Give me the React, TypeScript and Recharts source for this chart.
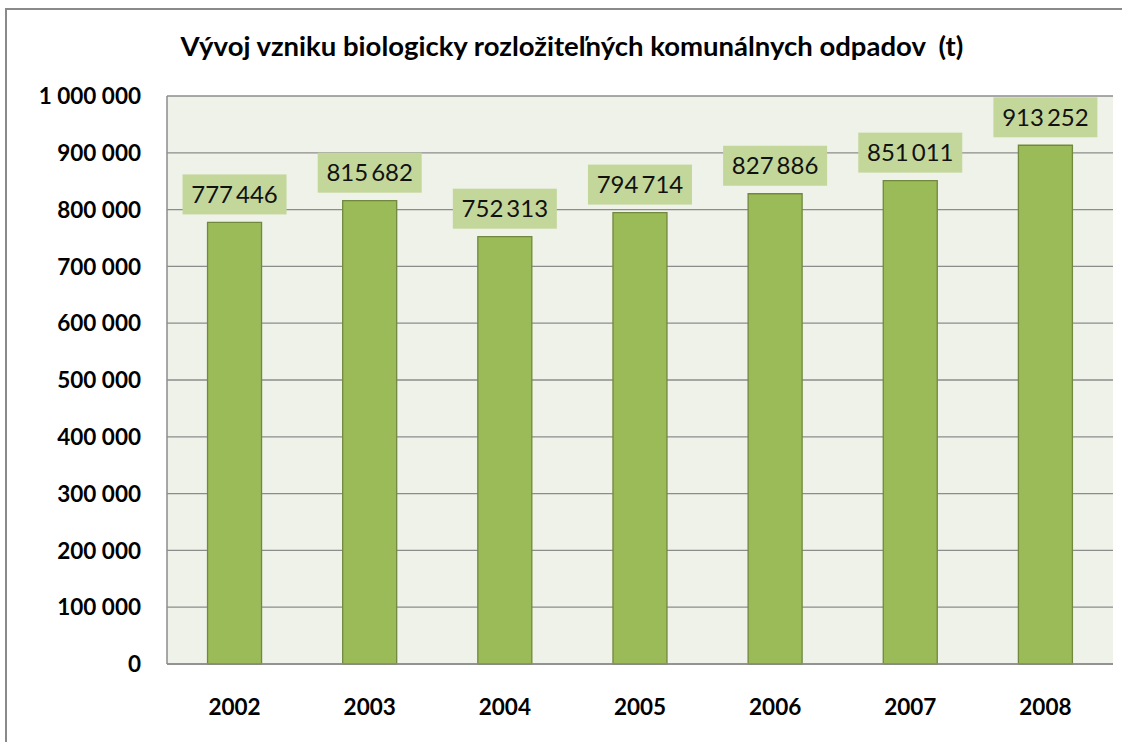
import React from "react";
import { BarChart, Bar, XAxis, YAxis, CartesianGrid, LabelList } from "recharts";

const years = ["2002", "2003", "2004", "2005", "2006", "2007", "2008"];
const values = [777446, 815682, 752313, 794714, 827886, 851011, 913252];
const yTicks = [0, 100000, 200000, 300000, 400000, 500000, 600000, 700000, 800000, 900000, 1000000];
const title = "Vývoj vzniku biologicky rozložiteľných komunálnych odpadov\u00a0 (t)";

const data = years.map((y, i) => ({ year: y, value: values[i] }));

const FONT = "Lato, 'Open Sans', sans-serif";

const fmt = (v: number, sep: string) => String(v).replace(/\B(?=(\d{3})+(?!\d))/g, sep);

const YTick = (props: any) => {
  const { x, y, payload } = props;
  return (
    <text x={x} y={y} dy="0.36em" textAnchor="end" fontFamily={FONT} fontWeight={700} fontSize={22.5} fill="#000">
      {fmt(payload.value, " ")}
    </text>
  );
};

const XTick = (props: any) => {
  const { x, y, payload } = props;
  return (
    <text x={x} y={y + 49} textAnchor="middle" fontFamily={FONT} fontWeight={700} fontSize={22.5} fill="#000">
      {payload.value}
    </text>
  );
};

const ValueLabel = (props: any) => {
  const { x, y, width, value } = props;
  const cx = x + width / 2;
  const bw = 104;
  const bh = 40;
  const by = y - 8 - bh;
  return (
    <g>
      <rect x={cx - bw / 2} y={by} width={bw} height={bh} fill="#C4D79B" />
      <text x={cx} y={by + bh / 2} dy="0.36em" textAnchor="middle" fontFamily={FONT} fontSize={24} fill="#111">
        {fmt(value, "\u2009")}
      </text>
    </g>
  );
};

export default function App() {
  return (
    <div style={{ position: "absolute", left: 0, top: 0, width: 1132, height: 742, background: "#fff", overflow: "hidden" }}>
      <div
        style={{
          position: "absolute",
          left: 5,
          top: 8,
          width: 1117,
          height: 760,
          borderLeft: "2px solid #8a8a8a",
          borderTop: "2px solid #8a8a8a",
          boxSizing: "border-box",
        }}
      />
      <svg style={{ position: "absolute", left: 0, top: 0 }} width={1132} height={90}>
        <text x={572} y={56} textAnchor="middle" fontFamily={FONT} fontWeight={700} fontSize={27.5} fill="#000" style={{ whiteSpace: "pre" }}>
          {title}
        </text>
      </svg>
      <div style={{ position: "absolute", left: 0, top: 0 }}>
        <BarChart
          width={1132}
          height={742}
          data={data}
          margin={{ top: 96, left: 17, right: 19, bottom: 38 }}
          barCategoryGap="30%"
        >
          <CartesianGrid vertical={false} stroke="#8c8c8c" strokeWidth={1.3} fill="#EEF2E8" fillOpacity={1} />
          <XAxis
            dataKey="year"
            height={40}
            axisLine={{ stroke: "#8c8c8c", strokeWidth: 1.5 }}
            tickLine={false}
            tickSize={0}
            tick={<XTick />}
          />
          <YAxis
            width={150}
            domain={[0, 1000000]}
            ticks={yTicks}
            interval={0}
            axisLine={{ stroke: "#8c8c8c", strokeWidth: 1.5 }}
            tickLine={false}
            tickSize={0}
            tickMargin={26}
            tick={<YTick />}
          />
          <Bar dataKey="value" fill="#9BBB59" stroke="#71893F" strokeWidth={1.3} isAnimationActive={false}>
            <LabelList dataKey="value" content={<ValueLabel />} />
          </Bar>
        </BarChart>
      </div>
    </div>
  );
}
